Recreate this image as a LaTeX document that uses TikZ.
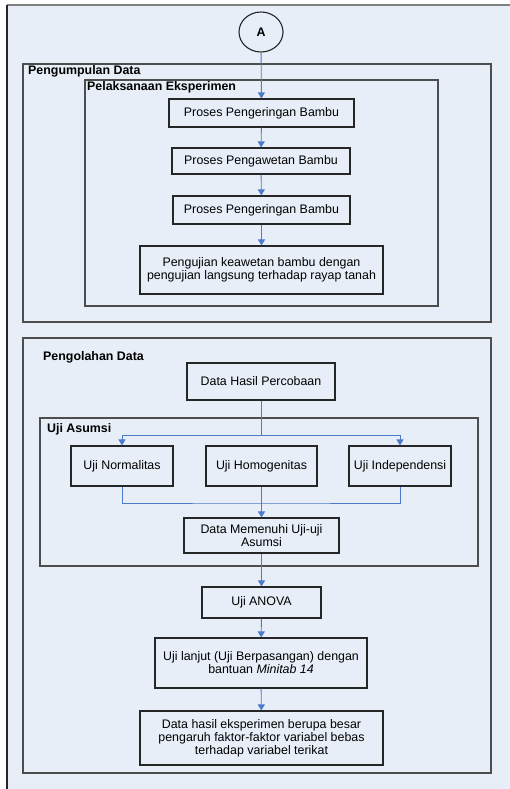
\documentclass[tikz,border=0pt]{standalone}
\usepackage{fontspec}
\setmainfont{Liberation Sans}
\usetikzlibrary{arrows.meta,shapes.geometric}
\definecolor{latar}{HTML}{E8EEF8}
\definecolor{biru}{HTML}{4A7CC9}
\definecolor{garis}{HTML}{4D4D4D}
\tikzset{
  kotak/.style={draw=black!85, line width=1.1pt, fill=latar, inner sep=0pt, align=center,
    font=\fontsize{12.4}{13}\selectfont},
  judul/.style={anchor=west, inner sep=0pt, font=\fontsize{12.4}{13}\selectfont\bfseries},
  wadah/.style={draw=garis, line width=1.4pt},
  panah/.style={->, draw=biru, line width=0.9pt},
  garisbiru/.style={draw=biru, line width=0.9pt}
}
\begin{document}
\begin{tikzpicture}[x=1pt, y=-1pt, >={Triangle[length=6pt,width=7pt]}]
\useasboundingbox (0,0) rectangle (510,789);
\fill[latar] (7,5) rectangle (510,789);
\draw[gray, line width=1.4pt] (7,5)--(510,5);
\draw[black!85, line width=1.4pt] (7,5)--(7,789);
\draw[wadah] (23,64) rectangle (491,322);
\draw[wadah] (85,80) rectangle (438,306);
\draw[wadah] (23,338) rectangle (491,773);
\draw[wadah] (40,418) rectangle (478,566);
\node[judul] (tkumpul) at (28,71) {Pengumpulan Data};
\node[judul] (tlaksana) at (87,87) {Pelaksanaan Eksperimen};
\node[judul] (tolah) at (43,357) {Pengolahan Data};
\node[judul] (tasumsi) at (47,429) {Uji Asumsi};

\node[kotak, ellipse, minimum width=44pt, minimum height=40pt, font=\fontsize{12.4}{13}\selectfont\bfseries] (A) at (261,32) {A};
\node[kotak, minimum width=185pt, minimum height=28pt] (kering1) at (261.5,113) {Proses Pengeringan Bambu};
\node[kotak, minimum width=178pt, minimum height=26pt] (awet) at (261,161) {Proses Pengawetan Bambu};
\node[kotak, minimum width=177pt, minimum height=28pt] (kering2) at (261.5,210) {Proses Pengeringan Bambu};
\node[kotak, minimum width=243pt, minimum height=48pt] (rayap) at (261.5,270) {Pengujian keawetan bambu dengan\\pengujian langsung terhadap rayap tanah};

\node[kotak, minimum width=148pt, minimum height=37pt] (hasil) at (261,381.5) {Data Hasil Percobaan};
\node[kotak, minimum width=102pt, minimum height=40pt] (normal) at (122,466) {Uji Normalitas};
\node[kotak, minimum width=111pt, minimum height=40pt] (homogen) at (261.5,466) {Uji Homogenitas};
\node[kotak, minimum width=102pt, minimum height=40pt] (indep) at (400,466) {Uji Independensi};
\node[kotak, minimum width=155pt, minimum height=35pt] (penuhi) at (261.5,535.5) {Data Memenuhi Uji-uji\\Asumsi};
\node[kotak, minimum width=119pt, minimum height=31pt] (anova) at (261.5,602.5) {Uji ANOVA};
\node[kotak, minimum width=212pt, minimum height=50pt] (lanjut) at (261,663) {Uji lanjut (Uji Berpasangan) dengan\\bantuan \textit{Minitab 14}};
\node[kotak, minimum width=243pt, minimum height=54pt] (akhir) at (261.5,738) {Data hasil eksperimen berupa besar\\pengaruh faktor-faktor variabel bebas\\terhadap variabel terikat};

\coordinate (cabang) at (261,435);
\coordinate (gabung) at (261.5,503);

\draw[panah] (A) -- (kering1);
\draw[panah] (kering1) -- (awet);
\draw[panah] (awet) -- (kering2);
\draw[panah] (kering2) -- (rayap);
\draw[garisbiru] (hasil) -- (cabang);
\draw[panah] (cabang) -| (normal);
\draw[panah] (cabang) -| (indep);
\draw[garisbiru] (normal) |- (gabung) -| (indep);
\draw[panah] (homogen) -- (penuhi);
\draw[panah] (penuhi) -- (anova);
\draw[panah] (anova) -- (lanjut);
\draw[panah] (lanjut) -- (akhir);
\end{tikzpicture}
\end{document}
